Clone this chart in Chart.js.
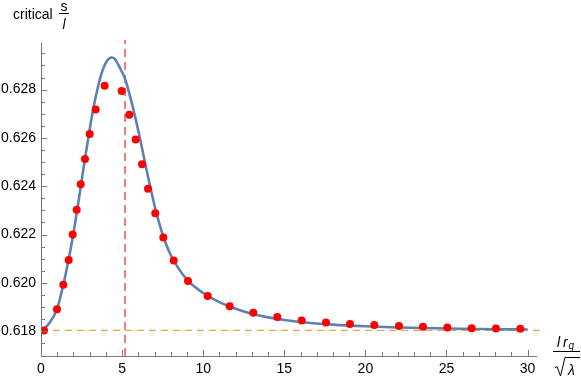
<!DOCTYPE html>
<html>
<head>
<meta charset="utf-8">
<script src="https://cdn.jsdelivr.net/npm/chart.js@4"></script>
<style>
  html, body { margin: 0; padding: 0; background: #fff; }
  #wrap { width: 581px; height: 378px; }
</style>
</head>
<body>
<div id="wrap"><canvas id="chart" width="581" height="378"></canvas></div>
<script>
// --- data ---
const curveX = [0, 0.5, 1, 1.375, 1.7, 2, 2.25, 2.5, 2.75, 3, 3.25, 3.5, 3.75, 4, 4.2, 4.36, 4.55, 4.75, 5, 5.18, 5.5, 6, 6.5, 7, 7.5, 8, 9, 10, 11, 12, 13, 14, 15, 16, 18, 20, 22, 25, 28, 30];
const curveY = [0.61800, 0.61832, 0.61893, 0.61992, 0.62095, 0.62205, 0.62310, 0.62420, 0.62530, 0.62635, 0.62730, 0.62808, 0.62870, 0.62912, 0.62929, 0.62933, 0.62927, 0.62905, 0.62872, 0.62845, 0.62770, 0.62630, 0.62470, 0.62320, 0.62200, 0.62115, 0.62013, 0.61958, 0.61920, 0.61893, 0.61872, 0.61857, 0.61846, 0.61838, 0.61827, 0.61820, 0.61815, 0.61811, 0.61808, 0.61807];

const dotX = [0.185, 0.986, 1.375, 1.708, 1.954, 2.201, 2.448, 2.713, 3.002, 3.372, 3.927, 4.975, 5.444, 5.838, 6.227, 6.597, 7.047, 7.540, 8.181, 9.063, 10.277, 11.634, 13.089, 14.568, 16.073, 17.571, 19.051, 20.549, 22.07, 23.55, 25.05, 26.55, 28.05, 29.55];
const dotY = [0.61803, 0.61891, 0.61992, 0.62095, 0.62200, 0.62303, 0.62408, 0.62513, 0.62616, 0.62718, 0.62816, 0.62794, 0.62696, 0.62593, 0.62491, 0.62389, 0.62288, 0.62188, 0.62092, 0.62008, 0.61945, 0.61903, 0.61876, 0.61859, 0.61844, 0.61836, 0.61829, 0.61825, 0.61821, 0.61818, 0.61815, 0.61812, 0.61811, 0.61810];

const peakLineX = 5.18;       // vertical dashed line
const baseLineY = 0.618034;   // horizontal dashed line

const xTicks = [0, 5, 10, 15, 20, 25, 30];
const yTicks = [0.618, 0.620, 0.622, 0.624, 0.626, 0.628];
const xMin = 0, xMax = 30.58;
const yMin = 0.61697, yMax = 0.62993;

const pts = (xs, ys) => xs.map((x, i) => ({ x: x, y: ys[i] }));

// --- axes, minor ticks and axis labels ---
const axesPlugin = {
    id: 'axesPlugin',
    afterDatasetsDraw(chart) {
        const ctx = chart.ctx;
        const xs = chart.scales.x, ys = chart.scales.y;
        const x0 = xs.getPixelForValue(0);
        const yb = chart.chartArea.bottom;
        ctx.save();
        ctx.strokeStyle = '#777';
        ctx.lineWidth = 1;
        ctx.beginPath();
        ctx.moveTo(x0 + 0.5, chart.chartArea.top);
        ctx.lineTo(x0 + 0.5, yb);
        ctx.moveTo(x0, yb + 0.5);
        ctx.lineTo(chart.chartArea.right, yb + 0.5);
        // x ticks, major every 5, minor every 1
        for (let v = 0; v <= 30; v++) {
            const px = Math.round(xs.getPixelForValue(v)) + 0.5;
            const len = v % 5 === 0 ? 6 : 4;
            ctx.moveTo(px, yb);
            ctx.lineTo(px, yb - len);
        }
        // y ticks, major every 0.002, minor every 0.0005
        for (let k = 0; k <= 24; k++) {
            const v = 0.6175 + k * 0.0005;
            const py = Math.round(ys.getPixelForValue(v)) + 0.5;
            const len = (k - 1) % 4 === 0 ? 6 : 4;
            ctx.moveTo(x0, py);
            ctx.lineTo(x0 + len, py);
        }
        ctx.stroke();

        // y axis label: critical s / l
        ctx.fillStyle = '#000';
        ctx.font = '14px "Liberation Sans", Arial, sans-serif';
        ctx.textBaseline = 'alphabetic';
        ctx.textAlign = 'left';
        ctx.fillText('critical', 13, 19);
        ctx.textAlign = 'center';
        ctx.fillText('s', 64, 10.5);
        ctx.font = 'italic 14px "Liberation Sans", Arial, sans-serif';
        ctx.fillText('l', 64, 29);
        ctx.beginPath();
        ctx.strokeStyle = '#000';
        ctx.moveTo(59, 13.5);
        ctx.lineTo(69, 13.5);
        ctx.stroke();

        // x axis label: l r_q / sqrt(lambda)
        ctx.textAlign = 'left';
        ctx.font = 'italic 14px "Liberation Sans", Arial, sans-serif';
        ctx.fillText('l', 557, 347);
        ctx.fillText('r', 563, 347);
        ctx.font = 'italic 10px "Liberation Sans", Arial, sans-serif';
        ctx.fillText('q', 568.5, 349);
        ctx.beginPath();
        ctx.moveTo(553, 351.5);
        ctx.lineTo(580, 351.5);
        // radical sign
        ctx.moveTo(555, 368);
        ctx.lineTo(557, 366.5);
        ctx.lineTo(560.5, 376);
        ctx.lineTo(565, 357.5);
        ctx.lineTo(580, 357.5);
        ctx.stroke();
        ctx.font = 'italic 14px "Liberation Sans", Arial, sans-serif';
        ctx.fillText('λ', 568, 375);
        ctx.restore();
    }
};

const ctx = document.getElementById('chart').getContext('2d');
const chart = new Chart(ctx, {
    type: 'scatter',
    data: {
        datasets: [
            {
                type: 'line',
                data: [{ x: xMin, y: baseLineY }, { x: 30.8, y: baseLineY }],
                borderColor: '#f5a04a',
                borderWidth: 1.2,
                borderDash: [7, 5],
                pointRadius: 0,
                clip: false,
                order: 4
            },
            {
                type: 'line',
                data: [{ x: peakLineX, y: yMin }, { x: peakLineX, y: 0.63005 }],
                borderColor: 'rgba(245, 100, 100, 0.85)',
                borderWidth: 2,
                borderDash: [8, 5],
                pointRadius: 0,
                clip: false,
                order: 3
            },
            {
                type: 'line',
                data: pts(curveX, curveY),
                borderColor: '#5e81b5',
                borderWidth: 2.6,
                pointRadius: 0,
                cubicInterpolationMode: 'monotone',
                fill: false,
                order: 2
            },
            {
                data: pts(dotX, dotY),
                backgroundColor: '#ff0000',
                borderColor: '#ff0000',
                borderWidth: 0,
                pointRadius: 4,
                order: 1
            }
        ]
    },
    options: {
        responsive: false,
        animation: false,
        events: [],
        layout: { padding: { left: 0, top: 43, right: 44, bottom: 0 } },
        plugins: { legend: { display: false }, tooltip: { enabled: false } },
        scales: {
            x: {
                type: 'linear', min: xMin, max: xMax,
                grid: { display: false, drawTicks: false },
                border: { display: false },
                afterBuildTicks: s => { s.ticks = xTicks.map(v => ({ value: v })); },
                afterFit: s => { s.height = 22; },
                ticks: {
                    padding: 5,
                    color: '#000',
                    maxRotation: 0,
                    font: { family: '"Liberation Sans", Arial, sans-serif', size: 14 },
                    callback: v => String(v)
                }
            },
            y: {
                type: 'linear', min: yMin, max: yMax,
                grid: { display: false, drawTicks: false },
                border: { display: false },
                afterBuildTicks: s => { s.ticks = yTicks.map(v => ({ value: v })); },
                afterFit: s => { s.width = 41; },
                ticks: {
                    padding: 5,
                    color: '#000',
                    font: { family: '"Liberation Sans", Arial, sans-serif', size: 14 },
                    callback: v => Number(v).toFixed(3)
                }
            }
        }
    },
    plugins: [axesPlugin]
});
</script>
</body>
</html>
